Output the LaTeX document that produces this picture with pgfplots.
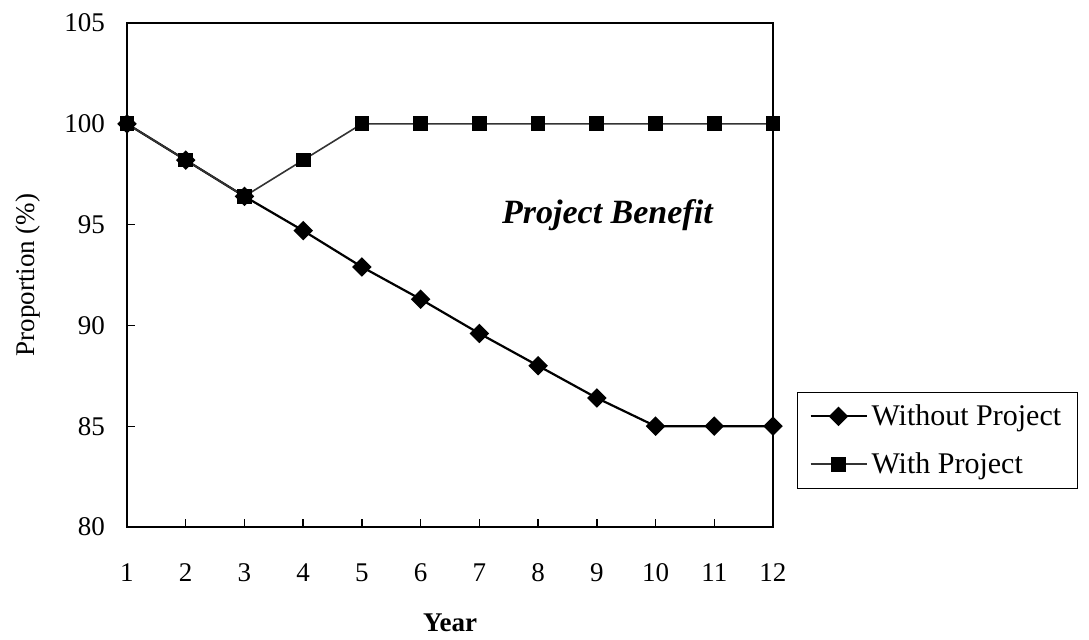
\documentclass[border=0pt]{standalone}
\usepackage{fontspec}
\setmainfont{Liberation Serif}
\usepackage{pgfplots}
\pgfplotsset{compat=1.18}
\begin{document}
\begin{tikzpicture}
\useasboundingbox (-63.5pt,-56pt) rectangle (481pt,263.5pt);
\begin{axis}[
 at={(0pt,0pt)}, anchor=south west,
 scale only axis, width=323pt, height=252pt,
 xmin=1, xmax=12, ymin=80, ymax=105,
 xtick={1,...,12}, ytick={80,85,...,105},
 tick align=inside, xtick pos=bottom, ytick pos=left,
 major tick length=4pt,
 /pgf/number format/assume math mode=true,
 tick label style={font=\fontsize{13.5}{16}\selectfont},
 xticklabel style={anchor=base, yshift=-27pt},
 yticklabel style={xshift=-7.5pt},
 axis line style={line width=0.7pt},
 tick style={line width=0.7pt, black},
 xlabel={\textbf{Year}}, ylabel={Proportion (\%)},
 every axis x label/.style={at={(axis description cs:0.5,-0.19)}, anchor=center, font=\fontsize{13.5}{16}\selectfont},
 every axis y label/.style={at={(axis description cs:-0.153,0.5)}, rotate=90, anchor=center, font=\fontsize{13.5}{16}\selectfont},
 legend style={at={(axis description cs:1.037,0.268)}, anchor=north west, draw=black, line width=0.5pt, font=\fontsize{15}{18}\selectfont, row sep=8pt, inner xsep=6pt, inner ysep=4pt},
 legend cell align=left,
 legend image code/.code={\draw[mark repeat=2,mark phase=2,#1] plot coordinates {(0pt,0pt) (14pt,0pt) (28pt,0pt)};},
]
\addplot[black, line width=1.1pt, mark=square*, mark size=2.9pt, mark options={rotate=45, solid}]
 coordinates {(1,100) (2,98.2) (3,96.4) (4,94.7) (5,92.9) (6,91.3) (7,89.6) (8,88.0) (9,86.4) (10,85) (11,85) (12,85)};
\addlegendentry{Without Project}
\addplot[black!80, line width=0.8pt, mark=square*, mark size=3.3pt, mark options={black, solid}]
 coordinates {(1,100) (2,98.2) (3,96.4) (4,98.2) (5,100) (6,100) (7,100) (8,100) (9,100) (10,100) (11,100) (12,100)};
\addlegendentry{With Project}
\node[font=\fontsize{17}{20}\selectfont\bfseries\itshape, anchor=center] at (axis cs:9.18,95.48) {Project Benefit};
\end{axis}
\end{tikzpicture}
\end{document}
